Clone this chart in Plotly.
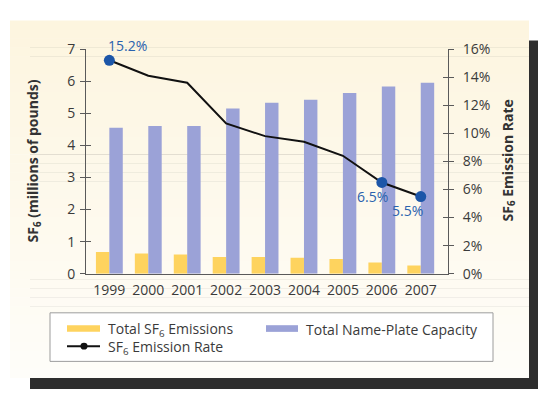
import plotly.graph_objects as go

W, H = 538, 398

years = ["1999", "2000", "2001", "2002", "2003", "2004", "2005", "2006", "2007"]
emissions = [0.68, 0.63, 0.60, 0.52, 0.52, 0.50, 0.46, 0.35, 0.26]          # millions of pounds
capacity = [4.55, 4.60, 4.60, 5.15, 5.33, 5.42, 5.63, 5.83, 5.95]            # millions of pounds
rate = [15.2, 14.1, 13.6, 10.7, 9.8, 9.4, 8.4, 6.5, 5.5]                      # percent
labeled_years = ["1999", "2006", "2007"]
left_ticks = [0, 1, 2, 3, 4, 5, 6, 7]
right_ticks = [0, 2, 4, 6, 8, 10, 12, 14, 16]

YELLOW = "#FED35E"
PERI = "#9BA2D7"
DOT = "#1C56A8"
LABEL_BLUE = "#2A62AE"
AX = "#5a5a5a"
TXT = "#3a3a3a"
FONT = "Open Sans"


def px(x):
    return x / W


def py(y):
    return 1 - y / H


fig = go.Figure()

fig.add_trace(go.Bar(x=years, y=emissions, marker_color=YELLOW, marker_line_width=0,
                     name="Total SF<sub>6</sub> Emissions", showlegend=False))
fig.add_trace(go.Bar(x=years, y=capacity, marker_color=PERI, marker_line_width=0,
                     name="Total Name-Plate Capacity", showlegend=False))
fig.add_trace(go.Scatter(x=years, y=rate, yaxis="y2", mode="lines",
                         line=dict(color="#111111", width=2),
                         name="SF<sub>6</sub> Emission Rate", showlegend=False))
idx = [years.index(yv) for yv in labeled_years]
fig.add_trace(go.Scatter(x=[years[i] for i in idx], y=[rate[i] for i in idx], yaxis="y2",
                         mode="markers", marker=dict(color=DOT, size=11),
                         showlegend=False, hoverinfo="skip"))
# empty traces carrying the inner half of the crossing tick marks
fig.add_trace(go.Scatter(x=[], y=[], yaxis="y3", showlegend=False, hoverinfo="skip"))
fig.add_trace(go.Scatter(x=[], y=[], yaxis="y4", showlegend=False, hoverinfo="skip"))

xdom = [px(86), px(448)]
ydom = [py(277), py(41)]

tickfont = dict(family=FONT, size=14, color=TXT)

fig.update_layout(
    width=W, height=H,
    margin=dict(l=0, r=0, t=0, b=0),
    paper_bgcolor="white",
    plot_bgcolor="rgba(0,0,0,0)",
    barmode="group", bargap=0.31, bargroupgap=0,
    xaxis=dict(domain=xdom, type="category", categoryorder="array", categoryarray=years,
               range=[-0.6, 8.7], showline=True, linecolor=AX, linewidth=1,
               ticks="", showgrid=False, zeroline=False, tickfont=tickfont,
               ticklabelstandoff=3, fixedrange=True),
    yaxis=dict(domain=ydom, range=[0, 7], tickvals=left_ticks, showline=True, linecolor=AX,
               linewidth=1, ticks="outside", ticklen=5, tickcolor=AX, showgrid=False,
               zeroline=False, tickfont=tickfont, ticklabelstandoff=2),
    yaxis2=dict(overlaying="y", side="right", anchor="x", range=[0, 16], tickvals=right_ticks,
                ticktext=[f"{t}%" for t in right_ticks], showline=True, linecolor=AX,
                linewidth=1, ticks="outside", ticklen=5, tickcolor=AX, showgrid=False,
                zeroline=False, tickfont=tickfont, ticklabelstandoff=6),
    yaxis3=dict(overlaying="y", side="left", anchor="x", range=[0, 7], tickvals=left_ticks,
                ticks="inside", ticklen=5, tickcolor=AX, showticklabels=False,
                showline=False, showgrid=False, zeroline=False),
    yaxis4=dict(overlaying="y", side="right", anchor="x", range=[0, 16], tickvals=right_ticks,
                ticks="inside", ticklen=5, tickcolor=AX, showticklabels=False,
                showline=False, showgrid=False, zeroline=False),
)

shapes = []
# drop shadow
shapes.append(dict(type="rect", xref="paper", yref="paper", x0=px(30), x1=px(538),
                   y0=py(398), y1=py(32), fillcolor="#2e2e2e", line_width=0, layer="below"))
# cream panel with vertical gradient
top_c = (253, 245, 223)
bot_c = (254, 253, 249)
n = 40
y_top, y_bot = 11, 386
for i in range(n):
    t = i / (n - 1)
    c = tuple(round(top_c[k] + (bot_c[k] - top_c[k]) * t) for k in range(3))
    ya = y_top + (y_bot - y_top) * i / n
    yb = y_top + (y_bot - y_top) * (i + 1) / n
    shapes.append(dict(type="rect", xref="paper", yref="paper", x0=px(10), x1=px(529),
                       y0=py(yb + 0.5), y1=py(ya), fillcolor="rgb(%d,%d,%d)" % c,
                       line_width=0, layer="below"))
# legend box
shapes.append(dict(type="rect", xref="paper", yref="paper", x0=px(50), x1=px(493),
                   y0=py(369), y1=py(318), fillcolor="white",
                   line=dict(color="#9c9c9c", width=1), layer="below"))
# legend swatches
shapes.append(dict(type="rect", xref="paper", yref="paper", x0=px(67), x1=px(100),
                   y0=py(338), y1=py(331), fillcolor=YELLOW, line_width=0))
shapes.append(dict(type="rect", xref="paper", yref="paper", x0=px(266), x1=px(298),
                   y0=py(338), y1=py(331), fillcolor=PERI, line_width=0))
shapes.append(dict(type="line", xref="paper", yref="paper", x0=px(67), x1=px(100),
                   y0=py(353), y1=py(353), line=dict(color="#111111", width=2)))
shapes.append(dict(type="circle", xref="paper", yref="paper", x0=px(80.5), x1=px(87.5),
                   y0=py(356.5), y1=py(349.5), fillcolor="#111111", line_width=0))
fig.update_layout(shapes=shapes)

ann = []
legend_font = dict(family=FONT, size=14, color=TXT)
ann.append(dict(xref="paper", yref="paper", x=px(106), y=py(335), xanchor="left", yanchor="middle",
                text="Total SF<sub>6</sub> Emissions", showarrow=False, font=legend_font))
ann.append(dict(xref="paper", yref="paper", x=px(304), y=py(335), xanchor="left", yanchor="middle",
                text="Total Name-Plate Capacity", showarrow=False, font=legend_font))
ann.append(dict(xref="paper", yref="paper", x=px(106), y=py(354), xanchor="left", yanchor="middle",
                text="SF<sub>6</sub> Emission Rate", showarrow=False, font=legend_font))
# axis titles
ann.append(dict(xref="paper", yref="paper", x=px(33), y=py(159), textangle=-90,
                xanchor="center", yanchor="middle",
                text="<b>SF<sub>6</sub> (millions of pounds)</b>", showarrow=False,
                font=dict(family=FONT, size=14, color="#333333")))
ann.append(dict(xref="paper", yref="paper", x=px(508), y=py(158), textangle=-90,
                xanchor="center", yanchor="middle",
                text="<b>SF<sub>6</sub> Emission Rate</b>", showarrow=False,
                font=dict(family=FONT, size=14, color="#333333")))
# data labels (x given as category index)
shifts = {"1999": (18, 15), "2006": (-9, -14), "2007": (-13, -14)}
for i in idx:
    yr = years[i]
    ann.append(dict(x=i, y=rate[i], xref="x", yref="y2", text=f"{rate[i]}%", showarrow=False,
                    xanchor="center", yanchor="middle",
                    xshift=shifts[yr][0], yshift=shifts[yr][1],
                    font=dict(family=FONT, size=14, color=LABEL_BLUE)))
fig.update_layout(annotations=ann)

fig.write_html("out.html")
